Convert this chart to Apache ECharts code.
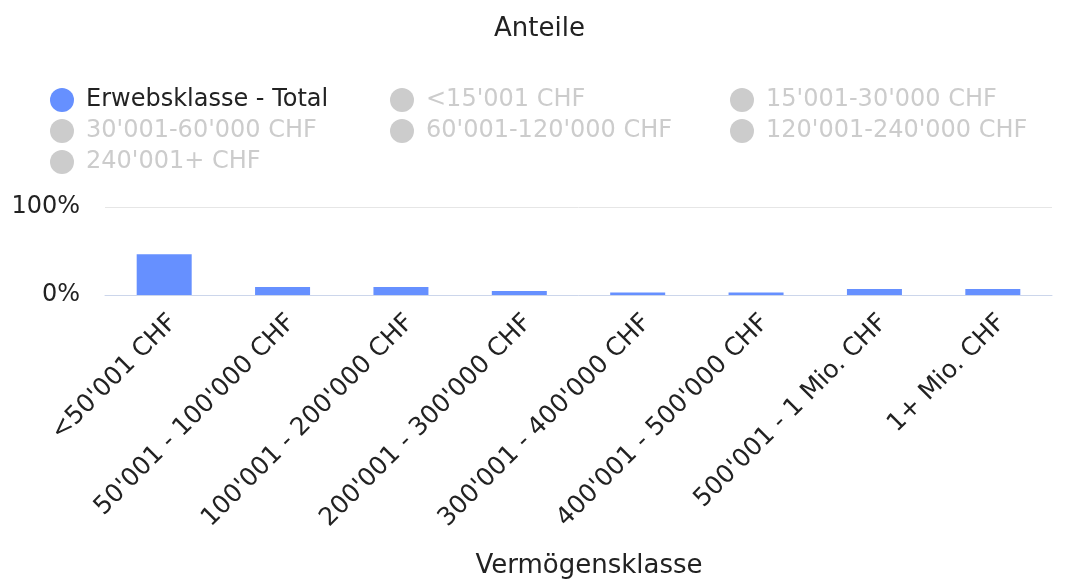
<!DOCTYPE html>
<html>
<head>
<meta charset="utf-8">
<script src="https://cdn.jsdelivr.net/npm/echarts@6/dist/echarts.min.js"></script>
<style>
  html, body { margin: 0; padding: 0; background: #fff; }
  #chart { width: 1070px; height: 580px; }
</style>
</head>
<body>
<div id="chart"></div>
<script>
// categories on the x axis
const categories = [
  "<50'001 CHF", "50'001 - 100'000 CHF", "100'001 - 200'000 CHF", "200'001 - 300'000 CHF",
  "300'001 - 400'000 CHF", "400'001 - 500'000 CHF", "500'001 - 1 Mio. CHF", "1+ Mio. CHF"
];
// shares in percent (only the total series is shown)
const totalValues = [46.4, 9.1, 9.1, 4.6, 2.7, 2.7, 6.8, 6.8];
const seriesNames = [
  'Erwebsklasse - Total', "<15'001 CHF", "15'001-30'000 CHF",
  "30'001-60'000 CHF", "60'001-120'000 CHF", "120'001-240'000 CHF", "240'001+ CHF"
];
const yTicks = [0, 100];

const font = 'DejaVu Sans';
const legendPos = [
  [50, 88], [390, 88], [730, 88],
  [50, 119], [390, 119], [730, 119],
  [50, 150]
];

const selected = {};
seriesNames.forEach((n, i) => { selected[n] = i === 0; });

const chart = echarts.init(document.getElementById('chart'));

const option = {
  animation: false,
  title: {
    text: 'Anteile',
    left: 489,
    top: 11,
    textStyle: { fontFamily: font, fontSize: 26, fontWeight: 'normal', color: '#222' }
  },
  legend: seriesNames.map((n, i) => ({
    data: [n],
    left: legendPos[i][0],
    top: legendPos[i][1],
    padding: 0,
    icon: 'circle',
    itemWidth: 38,
    itemHeight: 24,
    selected: selected,
    inactiveColor: '#cccccc',
    textStyle: { fontFamily: font, fontSize: 24, color: '#222' }
  })),
  grid: { left: 105, right: 18, top: 207, bottom: 285, outerBoundsMode: 'none', containLabel: false },
  xAxis: {
    type: 'category',
    data: categories,
    axisTick: { show: false },
    axisLine: { lineStyle: { color: '#ccd6eb' } },
    axisLabel: {
      rotate: 45, margin: 15, interval: 0, verticalAlign: 'top',
      fontFamily: font, fontSize: 25, color: '#222'
    },
    name: 'Vermögensklasse',
    nameLocation: 'middle',
    nameGap: 258,
    nameTextStyle: { fontFamily: font, fontSize: 26, color: '#222', padding: [0, 0, 0, 21] }
  },
  yAxis: {
    type: 'value',
    min: yTicks[0],
    max: yTicks[1],
    interval: 100,
    axisLabel: { formatter: '{value}%', margin: 25, fontFamily: font, fontSize: 24, color: '#222' },
    splitLine: { lineStyle: { color: '#e6e6e6' } },
    axisLine: { show: false },
    axisTick: { show: false }
  },
  series: seriesNames.map((n, i) => ({
    name: n,
    type: 'bar',
    barWidth: 55,
    itemStyle: { color: i === 0 ? '#6690ff' : '#999' },
    data: i === 0 ? totalValues : []
  }))
};

chart.setOption(option);
</script>
</body>
</html>
